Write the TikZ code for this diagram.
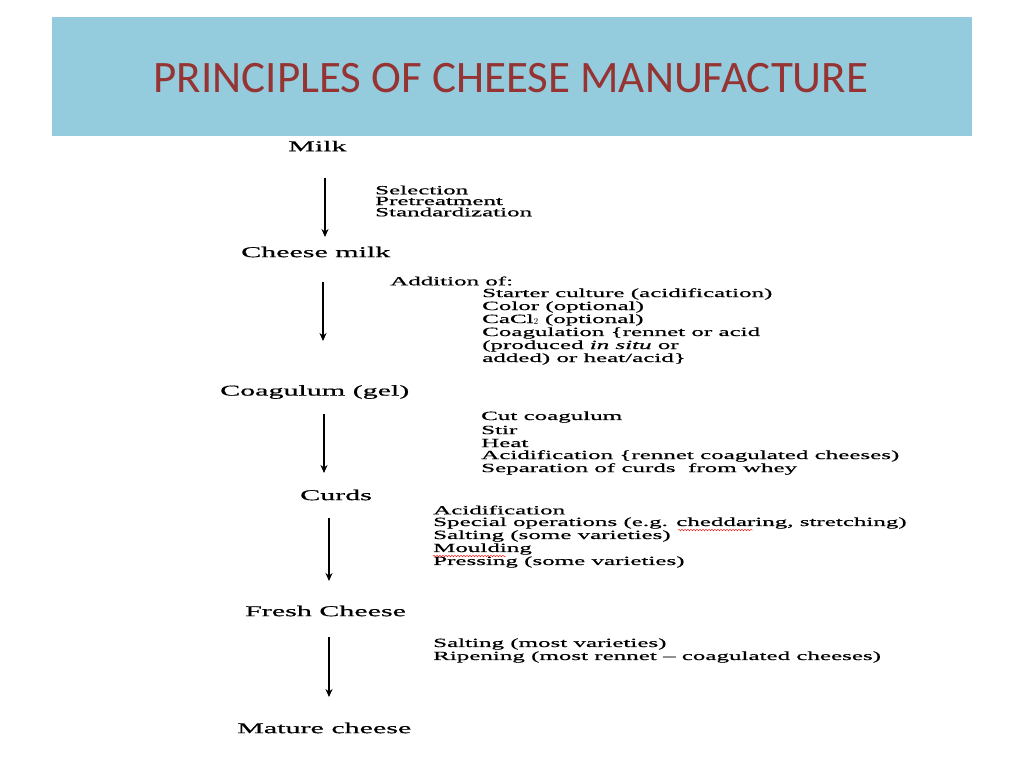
\documentclass[tikz,border=0pt]{standalone}
\usepackage{fontspec}
\setmainfont{Liberation Serif}[FakeStretch=2.0,FakeBold=0.6]
\newfontfamily\titlefont{Carlito}
\usetikzlibrary{decorations.pathmorphing,arrows.meta}
\definecolor{hdr}{RGB}{148,204,221}
\definecolor{ttl}{RGB}{150,52,52}
\begin{document}
\begin{tikzpicture}[x=1pt,y=-1pt,
  stage/.style={anchor=west,inner sep=0,font=\fontsize{15}{15}\selectfont},
  note/.style={anchor=west,inner sep=0,font=\fontsize{12.5}{12.5}\selectfont},
  flowarrow/.style={-{Stealth[length=8,width=7]},line width=1.1},
  wavy/.style={red,decorate,decoration={snake,amplitude=0.8,segment length=3},line width=0.4}]
\useasboundingbox (0,0) rectangle (1024,768);
\fill[white] (0,0) rectangle (1024,768);
\fill[hdr] (52,17) rectangle (972,136);
\node[inner sep=0,text=ttl,font=\titlefont\fontsize{45}{45}\selectfont] (title) at (511,78) {PRINCIPLES OF CHEESE MANUFACTURE};

\node[stage] (milk) at (288,146) {Milk};
\node[stage] (cmilk) at (241,252) {Cheese milk};
\node[stage] (coag) at (220,392) {Coagulum (gel)};
\node[stage] (curds) at (300,495) {Curds};
\node[stage] (fresh) at (245,611) {Fresh Cheese};
\node[stage] (mature) at (237,728) {Mature cheese};

\coordinate (a1s) at (325,178); \coordinate (a1e) at (325,237);
\coordinate (a2s) at (323,282); \coordinate (a2e) at (323,341);
\coordinate (a3s) at (324,414); \coordinate (a3e) at (324,473);
\coordinate (a4s) at (329,518); \coordinate (a4e) at (329,581);
\coordinate (a5s) at (329,637); \coordinate (a5e) at (329,697);
\draw[flowarrow] (a1s) -- (a1e);
\draw[flowarrow] (a2s) -- (a2e);
\draw[flowarrow] (a3s) -- (a3e);
\draw[flowarrow] (a4s) -- (a4e);
\draw[flowarrow] (a5s) -- (a5e);

\node[note] (n11) at (375,190) {Selection};
\node[note] (n12) at (375,201) {Pretreatment};
\node[note] (n13) at (375,212) {Standardization};

\node[note] (n20) at (390,281) {Addition of:};
\node[note] (n21) at (482,294) {Starter culture (acidification)};
\node[note] (n22) at (482,307) {Color (optional)};
\node[note] (n23) at (482,320) {CaCl$_2$ (optional)};
\node[note] (n24) at (482,333) {Coagulation \{rennet or acid};
\node[note] (n25) at (482,346) {(produced \textit{in situ} or};
\node[note] (n26) at (482,359) {added) or heat/acid\}};

\node[note] (n31) at (481,417) {Cut coagulum};
\node[note] (n32) at (481,430) {Stir};
\node[note] (n33) at (481,443) {Heat};
\node[note] (n34) at (481,456) {Acidification \{rennet coagulated cheeses)};
\node[note] (n35) at (481,469) {Separation of curds\ \ from whey};

\node[note] (n41) at (433,510) {Acidification};
\node[note] (n42) at (433,523) {Special operations (e.g. cheddaring, stretching)};
\node[note] (n43) at (433,536) {Salting (some varieties)};
\node[note] (n44) at (433,549) {Moulding};
\node[note] (n45) at (433,562) {Pressing (some varieties)};
\draw[wavy] (678,530) -- (753,530);
\draw[wavy] (433,556) -- (506,556);

\node[note] (n51) at (433,644) {Salting (most varieties)};
\node[note] (n52) at (433,657) {Ripening (most rennet -- coagulated cheeses)};
\end{tikzpicture}
\end{document}
